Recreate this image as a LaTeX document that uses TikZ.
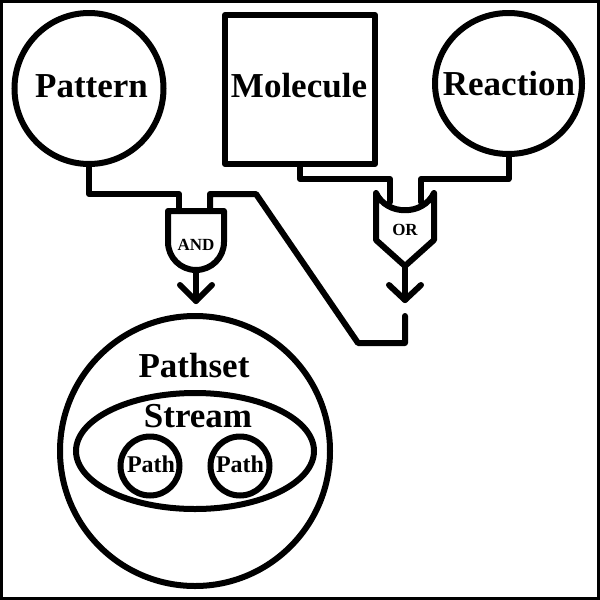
\documentclass[tikz,border=0pt]{standalone}
\usepackage{fontspec}
\setmainfont{Liberation Serif}
\usetikzlibrary{shapes.geometric}
\begin{document}
\begin{tikzpicture}[x=1pt,y=-1pt,
  ln/.style={line width=6pt, line cap=round, line join=round},
  ell/.style={ellipse, draw, line width=6pt, inner sep=0pt},
  box/.style={rectangle, draw, line width=6pt, line join=round, inner sep=0pt},
  big/.style={font=\bfseries\fontsize{35}{40}\selectfont, inner sep=0pt, anchor=base},
  mid/.style={font=\bfseries\fontsize{24}{28}\selectfont, inner sep=0pt, anchor=base},
  small/.style={font=\bfseries\fontsize{17}{20}\selectfont, inner sep=0pt, anchor=base}]
\useasboundingbox (0,0) rectangle (600,600);
\draw[line width=3pt] (1.5,1.5) rectangle (598.5,598.5);

% top shapes
\node[ell, minimum width=149pt, minimum height=151pt] (pattern) at (89,88.5) {};
\node[box, minimum width=150pt, minimum height=149pt] (molecule) at (300,89.5) {};
\node[ell, minimum width=147pt, minimum height=141pt] (reaction) at (508.5,83.5) {};
\node[big] (tpattern) at (91.5,97) {Pattern};
\node[big] (tmolecule) at (299,97) {Molecule};
\node[big] (treaction) at (509,95) {Reaction};

% gate coordinates
\coordinate (andL) at (179,211);
\coordinate (andR) at (210,211);
\coordinate (orL) at (390,202);
\coordinate (orR) at (421,202);
\coordinate (wA) at (89,194);
\coordinate (w1) at (256,194);
\coordinate (w2) at (358,343);
\coordinate (wEnd) at (405,316);
\coordinate (wM) at (300,179);
\coordinate (wR) at (508.5,179);

% wires
\draw[ln] (pattern.south) -- (wA) -| (andL);
\draw[ln] (andR) |- (w1) -- (w2) -| (wEnd);
\draw[ln] (molecule.south) -- (wM) -| (orL);
\draw[ln] (reaction.south) -- (wR) -| (orR);

% AND gate
\draw[ln] (168,211) -- (224,211) -- (224,242)
  .. controls (224,257.5) and (211.5,270) .. (196,270)
  .. controls (180.5,270) and (168,257.5) .. (168,242) -- cycle;
\node[small] (tand) at (196,250) {AND};
\coordinate (andOut) at (196,270);
\coordinate (andTip) at (196,301);
\draw[ln] (andOut) -- (andTip);
\draw[ln] (180,285) -- (andTip) -- (212,285);

% OR gate
\draw[ln] (376,193) .. controls (387,216) and (423,216) .. (434,193)
  -- (434,240) -- (405,266) -- (376,240) -- cycle;
\node[small] (tor) at (405,235) {OR};
\coordinate (orOut) at (405,266);
\coordinate (orTip) at (405,300);
\draw[ln] (orOut) -- (orTip);
\draw[ln] (389,285) -- (orTip) -- (421,285);

% Pathset
\node[ell, minimum width=270pt, minimum height=270pt] (pathset) at (195,451) {};
\node[ell, minimum width=238pt, minimum height=116pt] (stream) at (195,451) {};
\node[ell, minimum width=59pt, minimum height=59pt] (path1) at (150,466) {};
\node[ell, minimum width=59pt, minimum height=59pt] (path2) at (240,466) {};
\node[big] (tpathset) at (194,377) {Pathset};
\node[big] (tstream) at (198,427) {Stream};
\node[mid] (tpath1) at (151,472) {Path};
\node[mid] (tpath2) at (240,472) {Path};
\end{tikzpicture}
\end{document}
